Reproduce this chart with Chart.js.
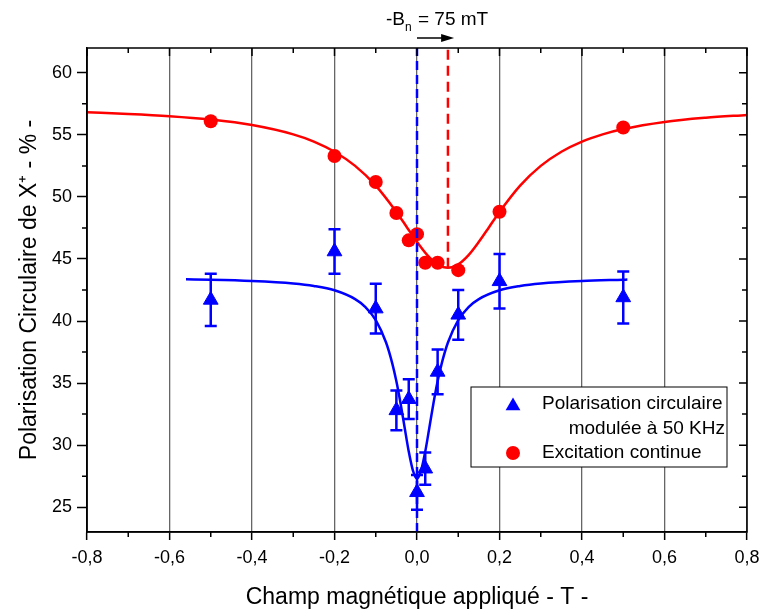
<!DOCTYPE html>
<html>
<head>
<meta charset="utf-8">
<script src="https://cdn.jsdelivr.net/npm/chart.js"></script>
<style>
  body { margin: 0; background: #ffffff; }
  #wrap { width: 760px; height: 611px; }
</style>
</head>
<body>
<div id="wrap"><canvas id="chart" width="760" height="611"></canvas></div>
<script>
  // mesures (points)
  const champX = [-0.5, -0.2, -0.1, -0.05, -0.02, 0.0, 0.02, 0.05, 0.1, 0.2, 0.5];
  const excitationY = [56.1, 53.3, 51.2, 48.7, 46.5, 47.0, 44.7, 44.7, 44.1, 48.8, 55.6];
  const moduleeY = [41.7, 45.6, 41.0, 32.8, 33.7, 26.2, 28.1, 35.9, 40.5, 43.2, 41.9];
  const moduleeErr = [2.1, 1.8, 2.0, 1.6, 1.6, 1.4, 1.3, 1.8, 2.0, 2.2, 2.1];

  // courbes d'ajustement
  const fitRougeX = [-0.8, -0.7, -0.6, -0.5, -0.4, -0.3, -0.25, -0.2, -0.15, -0.1, -0.05, -0.025, 0, 0.025, 0.05, 0.075, 0.1, 0.125, 0.15, 0.175, 0.2, 0.25, 0.3, 0.35, 0.4, 0.45, 0.5, 0.6, 0.7, 0.8];
  const fitRougeY = [56.82, 56.69, 56.51, 56.23, 55.79, 55.04, 54.46, 53.64, 52.5, 50.91, 48.79, 47.58, 46.38, 45.31, 44.57, 44.3, 44.57, 45.31, 46.38, 47.58, 48.79, 50.91, 52.5, 53.64, 54.46, 55.04, 55.47, 56.04, 56.38, 56.61];
  const fitBleuX = [-0.56, -0.5, -0.4, -0.3, -0.25, -0.2, -0.15, -0.125, -0.1, -0.075, -0.06, -0.05, -0.04, -0.03, -0.02, -0.01, 0, 0.01, 0.02, 0.03, 0.04, 0.05, 0.06, 0.075, 0.1, 0.125, 0.15, 0.2, 0.25, 0.3, 0.4, 0.5, 0.51];
  const fitBleuY = [43.36, 43.33, 43.23, 43.03, 42.83, 42.48, 41.77, 41.13, 40.07, 38.27, 36.59, 35.14, 33.39, 31.42, 29.48, 27.97, 27.3, 27.97, 29.48, 31.42, 33.39, 35.14, 36.59, 38.27, 40.07, 41.13, 41.77, 42.48, 42.83, 43.03, 43.23, 43.33, 43.34];

  // lignes verticales et annotation
  const bZero = 0;
  const bDecale = 0.075;
  const flecheFin = 0.09;
  const yMin = 23, yMax = 62;
  const xMin = -0.8, xMax = 0.8;

  const police = '"Liberation Sans", Arial, sans-serif';
  const bleu = '#0000ff';
  const rouge = '#ff0000';

  const pts = (xs, ys) => xs.map((x, i) => ({x: x, y: ys[i]}));

  // barres d'erreur
  const errorBars = {
    id: 'errorBars',
    afterDatasetsDraw(chart) {
      let ctx = chart.ctx;
      let sx = chart.scales.x, sy = chart.scales.y;
      ctx.save();
      ctx.strokeStyle = bleu;
      ctx.lineWidth = 2.5;
      champX.forEach((x, i) => {
        let px = sx.getPixelForValue(x);
        let top = sy.getPixelForValue(moduleeY[i] + moduleeErr[i]);
        let bot = sy.getPixelForValue(moduleeY[i] - moduleeErr[i]);
        ctx.beginPath();
        ctx.moveTo(px, top); ctx.lineTo(px, bot);
        ctx.moveTo(px - 6, top); ctx.lineTo(px + 6, top);
        ctx.moveTo(px - 6, bot); ctx.lineTo(px + 6, bot);
        ctx.stroke();
      });
      ctx.restore();
    }
  };

  // cadre, petites graduations, légende, annotation
  const decor = {
    id: 'decor',
    afterDraw(chart) {
      let ctx = chart.ctx;
      let a = chart.chartArea;
      let sx = chart.scales.x, sy = chart.scales.y;
      ctx.save();
      ctx.strokeStyle = '#000';
      ctx.lineWidth = 1.5;
      ctx.strokeRect(a.left, a.top, a.right - a.left, a.bottom - a.top);
      ctx.beginPath();
      // graduations x
      for (let k = -8; k <= 8; k++) {
        let px = sx.getPixelForValue(k / 10);
        let major = k % 2 === 0;
        let len = major ? 8 : 5;
        if (!major) { ctx.moveTo(px, a.bottom); ctx.lineTo(px, a.bottom + len); }
        ctx.moveTo(px, a.top); ctx.lineTo(px, a.top + len);
      }
      // graduations y
      for (let v = 25; v <= 60; v += 2.5) {
        let py = sy.getPixelForValue(v);
        let major = v % 5 === 0;
        let len = major ? 8 : 5;
        if (!major) { ctx.moveTo(a.left, py); ctx.lineTo(a.left - len, py); }
        ctx.moveTo(a.right, py); ctx.lineTo(a.right - len, py);
      }
      ctx.stroke();

      // légende
      ctx.lineWidth = 1;
      ctx.fillStyle = '#fff';
      ctx.fillRect(471, 387, 256, 80);
      ctx.strokeRect(471, 387, 256, 80);
      ctx.fillStyle = bleu;
      ctx.beginPath();
      ctx.moveTo(513, 406 - 8.5);
      ctx.lineTo(513 + 7.4, 406 + 4.25);
      ctx.lineTo(513 - 7.4, 406 + 4.25);
      ctx.closePath();
      ctx.fill();
      ctx.fillStyle = rouge;
      ctx.beginPath();
      ctx.arc(513, 453, 7, 0, Math.PI * 2);
      ctx.fill();
      ctx.fillStyle = '#000';
      ctx.font = '19px ' + police;
      ctx.textBaseline = 'middle';
      ctx.textAlign = 'left';
      ctx.fillText('Polarisation circulaire', 542, 404);
      ctx.fillText('Excitation continue', 542, 453);
      ctx.textAlign = 'right';
      ctx.fillText('modulée à 50 KHz', 725, 429);

      // annotation -Bn = 75 mT
      let x0 = sx.getPixelForValue(bZero);
      let x1 = sx.getPixelForValue(flecheFin);
      ctx.strokeStyle = '#000';
      ctx.fillStyle = '#000';
      ctx.lineWidth = 1.5;
      ctx.beginPath();
      ctx.moveTo(x0, 38); ctx.lineTo(x1 - 10, 38);
      ctx.stroke();
      ctx.beginPath();
      ctx.moveTo(x1, 38); ctx.lineTo(x1 - 13, 34); ctx.lineTo(x1 - 13, 42); ctx.closePath();
      ctx.fill();
      ctx.textAlign = 'left';
      ctx.textBaseline = 'alphabetic';
      ctx.font = '19px ' + police;
      ctx.fillText('-B', 386, 25);
      ctx.font = '12px ' + police;
      ctx.fillText('n', 405, 31);
      ctx.font = '19px ' + police;
      ctx.fillText('= 75 mT', 418, 25);
      ctx.restore();
    }
  };

  let ctx = document.getElementById('chart').getContext('2d');
  let chart = new Chart(ctx, {
    type: 'scatter',
    data: {
      datasets: [
        {
          label: 'Bzero',
          data: [{x: bZero, y: yMin}, {x: bZero, y: yMax}],
          showLine: true, pointRadius: 0,
          borderColor: bleu, borderWidth: 2.5, borderDash: [9, 5]
        },
        {
          label: 'Bdecale',
          data: [{x: bDecale, y: 44.3}, {x: bDecale, y: yMax}],
          showLine: true, pointRadius: 0,
          borderColor: rouge, borderWidth: 2.5, borderDash: [10, 6]
        },
        {
          label: 'Polarisation circulaire modulée à 50 KHz',
          data: pts(champX, moduleeY),
          pointStyle: 'triangle', pointRadius: 8.5,
          backgroundColor: bleu, borderColor: bleu, borderWidth: 1
        },
        {
          label: 'Excitation continue',
          data: pts(champX, excitationY),
          pointStyle: 'circle', pointRadius: 7,
          backgroundColor: rouge, borderColor: rouge, borderWidth: 0
        },
        {
          label: 'fit bleu',
          data: pts(fitBleuX, fitBleuY),
          showLine: true, pointRadius: 0,
          borderColor: bleu, borderWidth: 2.5,
          cubicInterpolationMode: 'monotone'
        },
        {
          label: 'fit rouge',
          data: pts(fitRougeX, fitRougeY),
          showLine: true, pointRadius: 0,
          borderColor: rouge, borderWidth: 2.5,
          cubicInterpolationMode: 'monotone'
        }
      ]
    },
    options: {
      responsive: false,
      animation: false,
      layout: { padding: { left: 0, top: 48, right: 13, bottom: 0 } },
      plugins: { legend: { display: false }, tooltip: { enabled: false } },
      scales: {
        x: {
          type: 'linear',
          min: xMin, max: xMax,
          afterFit: (s) => { s.height = 79; s.paddingLeft = 0; s.paddingRight = 0; },
          ticks: {
            stepSize: 0.2,
            includeBounds: false,
            color: '#000',
            padding: 7,
            font: { family: police, size: 18 },
            callback: (v) => (Math.abs(v) < 1e-9 ? 0 : v).toFixed(1).replace('.', ',')
          },
          grid: {
            color: '#666',
            lineWidth: 1.3,
            tickLength: 8,
            tickColor: '#000',
            tickWidth: 1.5
          },
          border: { display: true, color: '#000', width: 1.5 },
          title: {
            display: true,
            text: 'Champ magnétique appliqué - T -',
            color: '#000',
            font: { family: police, size: 23 },
            padding: { top: 0, bottom: 0 }
          }
        },
        y: {
          min: yMin, max: yMax,
          afterFit: (s) => { s.width = 87; s.paddingTop = 0; s.paddingBottom = 0; },
          ticks: {
            stepSize: 5,
            includeBounds: false,
            color: '#000',
            padding: 5,
            font: { family: police, size: 18 }
          },
          grid: {
            drawOnChartArea: false,
            tickLength: 10,
            tickColor: '#000',
            tickWidth: 1.5
          },
          border: { display: true, color: '#000', width: 1.5 },
          title: {
            display: true,
            text: 'Polarisation Circulaire de X⁺ - % -',
            color: '#000',
            font: { family: police, size: 23 },
            padding: { top: 16, bottom: 0 }
          }
        }
      }
    },
    plugins: [errorBars, decor]
  });
</script>
</body>
</html>
